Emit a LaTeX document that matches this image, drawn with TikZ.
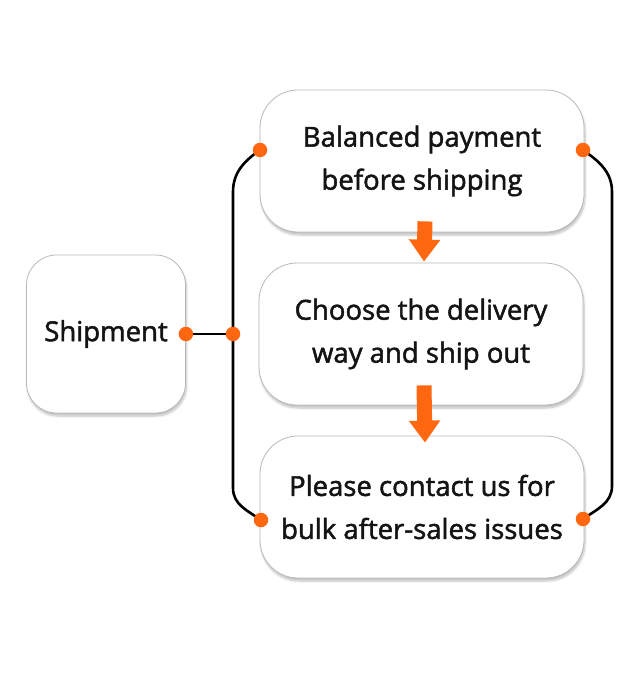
\documentclass[tikz,border=0pt]{standalone}
\usepackage{fontspec}
\setmainfont{Open Sans}
\newfontfamily\cardfont{Open Sans}[FakeBold=1.8]
\usetikzlibrary{shadows.blur,arrows.meta}
\definecolor{dotorange}{RGB}{255,104,16}
\tikzset{
  card/.style={draw=gray!55, line width=0.8pt, fill=white, align=center,
    font=\cardfont\fontsize{27.5}{43}\selectfont, text=black!92,
    blur shadow={shadow xshift=1pt, shadow yshift=-3pt, shadow blur steps=6, shadow opacity=25}},
  wide/.style={card, rounded corners=38pt, minimum width=324pt, minimum height=142pt},
  square/.style={card, rounded corners=30pt, minimum width=159pt, minimum height=158pt},
  dot/.style={circle, fill=dotorange, inner sep=0pt, minimum size=14.5pt},
  link/.style={line width=2.6pt, black},
  flow/.style={line width=15pt, dotorange, -{Triangle[width=30pt,length=22pt]}},
}
\begin{document}
\begin{tikzpicture}[x=1pt,y=-1pt]
\useasboundingbox (0,0) rectangle (640,677);
% boxes
\node[square] (ship) at (106,334){Shipment};
\node[wide] (pay) at (422,161){Balanced payment\\before shipping};
\node[wide] (way) at (421,334){Choose the delivery\\way and ship out};
\node[wide] (bulk) at (422,507){Please contact us for\\bulk after-sales issues};
% connectors
\coordinate (ptl) at (260,150);
\coordinate (ptr) at (583,150);
\coordinate (pbl) at (261,520);
\coordinate (pbr) at (583,519);
\coordinate (jn) at (233,334);
\coordinate (lt) at (233,192);
\coordinate (lb) at (233,488);
\coordinate (rt) at (612,192);
\coordinate (rb) at (612,486);
\draw[link](ptl) to[out=215,in=90] (lt) -- (lb) to[out=270,in=145] (pbl);
\draw[link](ptr) to[out=-35,in=90] (rt) -- (rb) to[out=270,in=35] (pbr);
\draw[link](ship.east) -- (jn);
\draw[flow]([xshift=3pt,yshift=11pt]pay.south) -- ([xshift=3pt,yshift=1pt]way.north);
\draw[flow]([xshift=3pt,yshift=20pt]way.south) -- ([xshift=3pt,yshift=-7pt]bulk.north);
% dots
\node[dot] (d0) at (ship.east){};
\node[dot] (d1) at (jn){};
\node[dot] (d2) at (ptl){};
\node[dot] (d3) at (ptr){};
\node[dot] (d4) at (pbl){};
\node[dot] (d5) at (pbr){};
\end{tikzpicture}
\end{document}
